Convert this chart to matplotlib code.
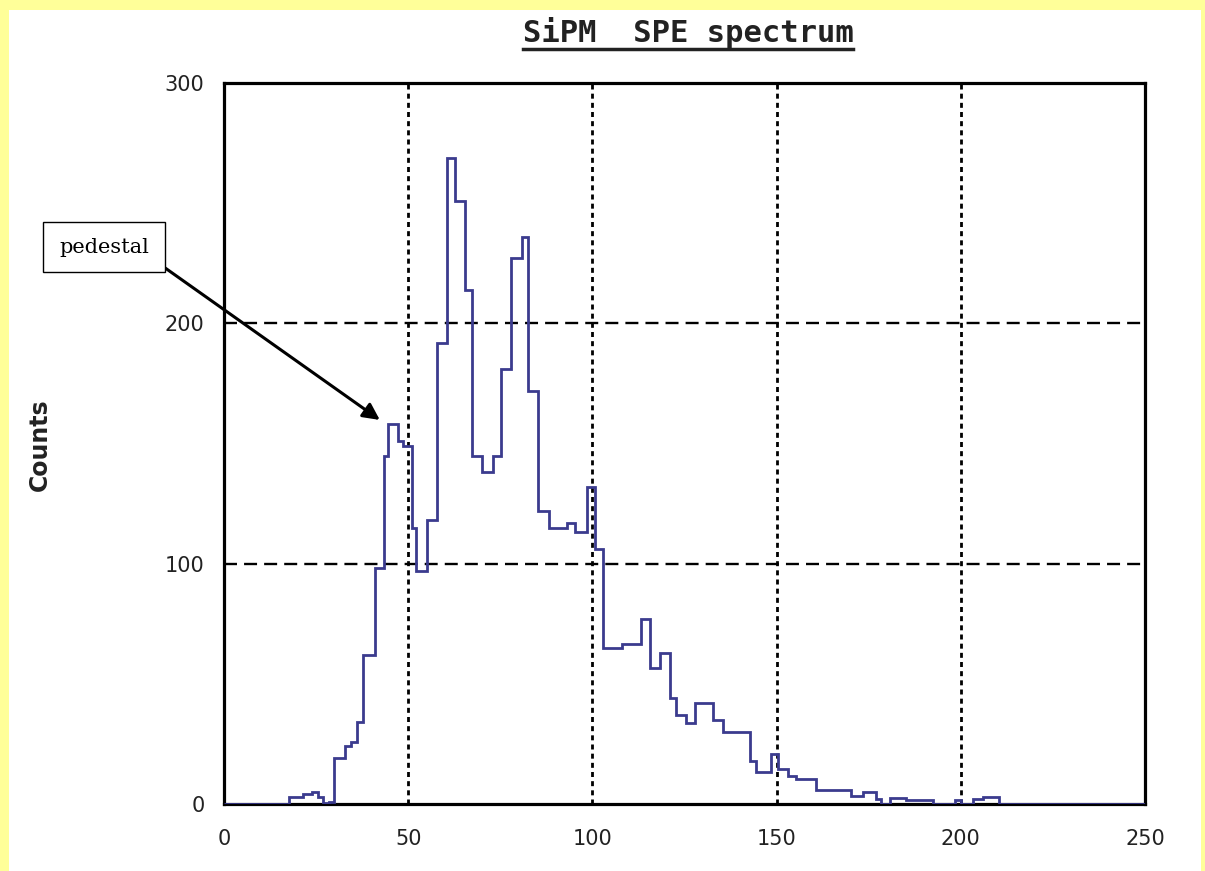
import matplotlib
matplotlib.use("Agg")
import matplotlib.pyplot as plt
from matplotlib.patches import Rectangle
from matplotlib.lines import Line2D

# channel bin edges and counts of the SPE spectrum
bin_edges = [0, 17.6, 21.5, 24, 25.5, 27, 28.5, 29.8, 32.8, 34.5,
             36, 37.8, 40.9, 43.3, 44.6, 47.2, 48.7, 50.9, 52.2, 55,
             57.7, 60.4, 62.7, 65.4, 67.2, 69.9, 73.1, 75.3, 78, 80.8,
             82.5, 85.3, 88.3, 93, 95.2, 98.6, 100.8, 102.9, 108, 113.3,
             115.5, 118.3, 121, 122.8, 125.5, 127.8, 132.8, 135.5, 142.7, 144.5,
             148.6, 150.4, 153.1, 155.4, 160.8, 170.3, 173.4, 177.1, 178.4, 180.7,
             185.2, 192.4, 198.3, 200.1, 203.3, 206, 210.5, 250]
counts = [0, 3, 4, 5, 3, 0.5, 1, 19, 24, 26,
          34, 62, 98, 145, 158, 151, 149, 115, 97, 118,
          192, 269, 251, 214, 145, 138, 145, 181, 227, 236,
          172, 122, 115, 117, 113, 132, 106, 65, 66.5, 77,
          56.5, 63, 44, 37, 33.5, 42, 35, 30, 18, 13.5,
          21, 14.5, 11.5, 10.3, 6, 3.3, 5, 2, 0, 2.4,
          1.5, 0, 1.5, 0, 2, 2.8, 0]

x_ticks = [0, 50, 100, 150, 200, 250]
y_ticks = [0, 100, 200, 300]
pedestal_pos = (42.3, 159.8)

W, H = 1205, 871
fig = plt.figure(figsize=(W / 100, H / 100), dpi=100, facecolor="#ffff99")
# white page inside the yellow frame
fig.add_artist(Rectangle((9 / W, 0), (W - 13) / W, (H - 10) / H,
                         transform=fig.transFigure, facecolor="white",
                         edgecolor="none", zorder=0))

ax = fig.add_axes([224 / W, (H - 804) / H, 921 / W, 721 / H])
ax.set_xlim(0, 250)
ax.set_ylim(0, 300)

# grid: dotted verticals, dashed horizontals
for xv in [50, 100, 150, 200]:
    ax.axvline(xv, color="black", lw=2.0, linestyle=(0, (1.8, 1.5)), zorder=1)
for yv in [100, 200]:
    ax.axhline(yv, color="black", lw=1.7, linestyle=(0, (5.5, 3.0)), zorder=1)

ax.stairs(counts, bin_edges, color="#3b3b8e", lw=2.0, zorder=3)

ax.set_xticks(x_ticks)
ax.set_yticks(y_ticks)
ax.tick_params(length=0, labelsize=15, labelcolor="#222222")
ax.tick_params(axis="x", pad=18)
ax.tick_params(axis="y", pad=14)
for sp in ax.spines.values():
    sp.set_linewidth(2.3)
    sp.set_color("black")

fig.text(40 / W, 1 - 445 / H, "Counts", rotation=90, ha="center", va="center",
         fontsize=17, fontweight="bold", color="#222222")

title = fig.text(688 / W, 1 - 32 / H, "SiPM  SPE spectrum", ha="center",
                 va="center", fontsize=22, fontweight="bold",
                 family="DejaVu Sans Mono", color="#222222")

# pedestal label with arrow
ax.annotate("pedestal", xy=pedestal_pos, xycoords="data",
            xytext=(104, H - 247), textcoords="figure pixels",
            ha="center", va="center", fontsize=15, family="DejaVu Serif",
            bbox=dict(boxstyle="square,pad=0.75", fc="white", ec="black", lw=1.0),
            arrowprops=dict(arrowstyle="-|>", color="black", lw=2.2,
                            mutation_scale=25, shrinkA=0, shrinkB=0,
                            relpos=(1, 0)),
            annotation_clip=False, zorder=5)

# underline under the title
fig.canvas.draw()
bb = title.get_window_extent().transformed(fig.transFigure.inverted())
fig.add_artist(Line2D([bb.x0, bb.x1], [bb.y0 - 0.002, bb.y0 - 0.002],
                      transform=fig.transFigure, color="#222222", lw=2.5))

fig.savefig("out.png", dpi=100, facecolor=fig.get_facecolor())
